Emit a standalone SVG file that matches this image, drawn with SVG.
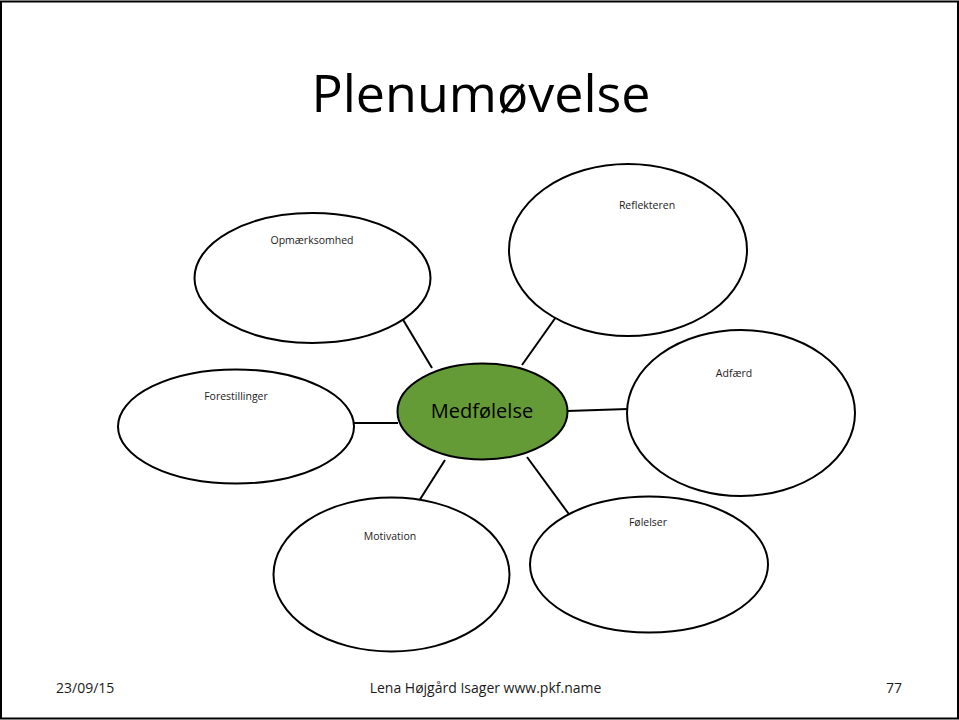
<svg xmlns="http://www.w3.org/2000/svg" width="959" height="720" viewBox="0 0 959 720">
  <style>
    .bubble { fill: #ffffff; stroke: #000000; stroke-width: 2; }
    .core { fill: #659b36; stroke: #000000; stroke-width: 2; }
    .label { font-family: "Open Sans", Lato, sans-serif; font-size: 10.5px; fill: #1a1a1a; text-anchor: middle; }
    .link { stroke: #000000; stroke-width: 2; fill: none; }
    .foot { font-family: "Open Sans", Lato, sans-serif; font-size: 14px; fill: #1a1a1a; }
  </style>
  <!-- slide frame -->
  <rect x="1" y="1.5" width="957" height="717" fill="#ffffff" stroke="#000000" stroke-width="2"/>
  <text x="481" y="112" font-family="'Open Sans', Lato, sans-serif" font-size="52" text-anchor="middle" fill="#000000">Plenumøvelse</text>

  <g id="connectors">
    <line class="link" x1="402" y1="318" x2="432" y2="368"/>
    <line class="link" x1="556" y1="317" x2="522" y2="365"/>
    <line class="link" x1="567" y1="411" x2="628" y2="409"/>
    <line class="link" x1="354" y1="423" x2="398" y2="423"/>
    <line class="link" x1="412" y1="512" x2="445" y2="460"/>
    <line class="link" x1="527" y1="457" x2="571" y2="517"/>
  </g>

  <g id="opmaerksomhed">
    <ellipse class="bubble" cx="312.5" cy="278" rx="118" ry="65"/>
    <text class="label" x="312" y="244">Opmærksomhed</text>
  </g>
  <g id="reflekteren">
    <ellipse class="bubble" cx="628" cy="250" rx="119" ry="86"/>
    <text class="label" x="647" y="209">Reflekteren</text>
  </g>
  <g id="adfaerd">
    <ellipse class="bubble" cx="741" cy="413" rx="114" ry="83"/>
    <text class="label" x="734" y="377">Adfærd</text>
  </g>
  <g id="forestillinger">
    <ellipse class="bubble" cx="236" cy="426.5" rx="118" ry="57"/>
    <text class="label" x="236" y="400">Forestillinger</text>
  </g>
  <g id="motivation">
    <ellipse class="bubble" cx="391.5" cy="574.5" rx="118" ry="77"/>
    <text class="label" x="390" y="540">Motivation</text>
  </g>
  <g id="folelser">
    <ellipse class="bubble" cx="649" cy="564.5" rx="119" ry="68"/>
    <text class="label" x="648" y="526">Følelser</text>
  </g>
  <g id="medfolelse">
    <ellipse class="core" cx="482.5" cy="411.5" rx="85" ry="48"/>
    <text x="482" y="418" font-family="'Open Sans', Lato, sans-serif" font-size="20" text-anchor="middle" fill="#000000">Medfølelse</text>
  </g>

  <g id="footer">
    <text class="foot" x="56" y="693">23/09/15</text>
    <text class="foot" x="485.5" y="693" text-anchor="middle">Lena Højgård Isager www.pkf.name</text>
    <text class="foot" x="902" y="693" text-anchor="end">77</text>
  </g>
</svg>
